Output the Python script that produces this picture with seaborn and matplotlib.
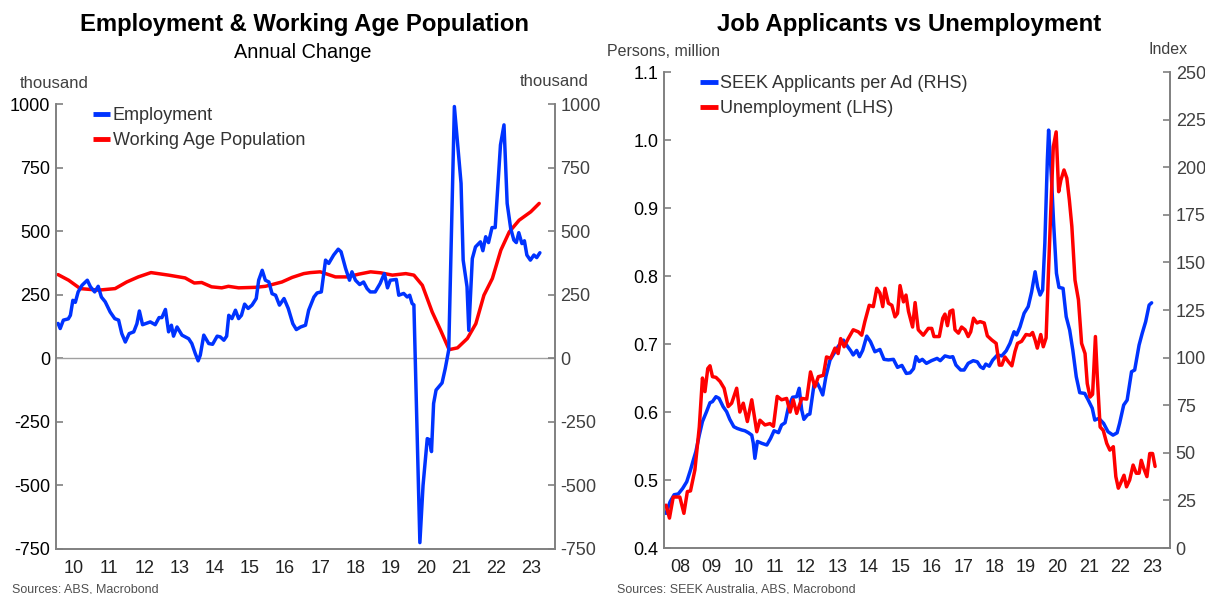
import numpy as np
import pandas as pd
import matplotlib
matplotlib.use('Agg')
import matplotlib.pyplot as plt
from matplotlib.lines import Line2D
import seaborn as sns

# --- data (decimal years) ---
emp_year = [2010.05, 2010.11, 2010.2, 2010.34, 2010.4, 2010.47, 2010.54, 2010.62, 2010.73, 2010.88,
            2010.97, 2011.09, 2011.19, 2011.28, 2011.39, 2011.53, 2011.66, 2011.77, 2011.86, 2011.96,
            2012.07, 2012.2, 2012.29, 2012.36, 2012.45, 2012.67, 2012.81, 2012.92, 2013.0, 2013.1,
            2013.19, 2013.27, 2013.33, 2013.43, 2013.57, 2013.76, 2013.85, 2013.95, 2014.03, 2014.09,
            2014.19, 2014.33, 2014.44, 2014.57, 2014.66, 2014.76, 2014.84, 2014.9, 2014.99, 2015.09,
            2015.18, 2015.26, 2015.35, 2015.45, 2015.56, 2015.68, 2015.75, 2015.85, 2015.94, 2016.04,
            2016.13, 2016.23, 2016.34, 2016.47, 2016.59, 2016.72, 2016.82, 2016.94, 2017.08, 2017.17,
            2017.32, 2017.41, 2017.53, 2017.65, 2017.74, 2017.88, 2018.01, 2018.09, 2018.22, 2018.33,
            2018.4, 2018.5, 2018.62, 2018.73, 2018.83, 2018.92, 2019.06, 2019.2, 2019.32, 2019.41,
            2019.49, 2019.66, 2019.73, 2019.87, 2019.97, 2020.04, 2020.11, 2020.16, 2020.33, 2020.42,
            2020.54, 2020.6, 2020.66, 2020.72, 2020.79, 2020.96, 2021.05, 2021.15, 2021.31, 2021.5,
            2021.56, 2021.67, 2021.72, 2021.82, 2021.91, 2022.05, 2022.12, 2022.2, 2022.28, 2022.38,
            2022.47, 2022.62, 2022.72, 2022.81, 2022.91, 2023.0, 2023.07, 2023.14, 2023.23, 2023.3,
            2023.37, 2023.47, 2023.57, 2023.65, 2023.74]
emp_val = [137, 117, 150, 155, 169, 228, 220, 261, 287, 307,
           281, 261, 283, 241, 222, 182, 156, 150, 97, 64,
           97, 104, 136, 186, 132, 143, 132, 160, 160, 192,
           104, 130, 87, 123, 91, 77, 58, 18, -10, 12,
           91, 58, 55, 87, 84, 71, 87, 169, 156, 189,
           156, 169, 213, 196, 209, 235, 307, 346, 307, 300,
           254, 248, 209, 235, 196, 136, 113, 123, 130, 189,
           241, 257, 261, 386, 373, 406, 429, 419, 353, 307,
           340, 307, 290, 300, 274, 261, 261, 294, 333, 277,
           307, 310, 248, 255, 241, 248, 215, 210, -725, -500,
           -316, -320, -367, -178, -125, -97, -41, 33, 990, 688,
           386, 281, 110, 392, 438, 458, 423, 478, 455, 514,
           514, 839, 918, 609, 511, 465, 455, 494, 451, 462,
           406, 386, 406, 396, 415]

wap_year = [2010.05, 2010.35, 2010.68, 2011.2, 2011.67, 2012.0, 2012.33, 2012.69, 2013.19, 2013.66,
            2013.92, 2014.13, 2014.41, 2014.7, 2014.89, 2015.18, 2015.65, 2015.94, 2016.41, 2016.7,
            2017.03, 2017.22, 2017.5, 2017.93, 2018.27, 2018.6, 2018.93, 2019.22, 2019.55, 2019.93,
            2020.16, 2020.4, 2020.68, 2020.92, 2021.16, 2021.4, 2021.68, 2021.92, 2022.15, 2022.39,
            2022.63, 2022.87, 2023.15, 2023.48, 2023.72]
wap_val = [329, 307, 274, 268, 274, 300, 320, 337, 327, 316,
           296, 298, 281, 277, 283, 277, 279, 283, 300, 318,
           333, 337, 340, 320, 320, 331, 340, 336, 327, 333,
           327, 287, 182, 110, 34, 41, 78, 136, 248, 314,
           425, 497, 543, 576, 609]

unemp_year = [2008.04, 2008.15, 2008.27, 2008.48, 2008.61, 2008.72, 2008.82, 2008.96, 2009.1, 2009.2,
              2009.28, 2009.37, 2009.44, 2009.52, 2009.63, 2009.76, 2009.89, 2010.02, 2010.13, 2010.29,
              2010.39, 2010.5, 2010.63, 2010.77, 2010.93, 2011.03, 2011.19, 2011.35, 2011.46, 2011.58,
              2011.72, 2011.88, 2011.99, 2012.09, 2012.2, 2012.36, 2012.52, 2012.64, 2012.78, 2012.89,
              2013.05, 2013.15, 2013.28, 2013.42, 2013.52, 2013.6, 2013.71, 2013.84, 2014.0, 2014.16,
              2014.27, 2014.37, 2014.51, 2014.64, 2014.75, 2014.85, 2014.94, 2015.01, 2015.12, 2015.23,
              2015.33, 2015.41, 2015.49, 2015.6, 2015.68, 2015.76, 2015.89, 2015.97, 2016.07, 2016.23,
              2016.39, 2016.5, 2016.57, 2016.74, 2016.85, 2016.92, 2017.0, 2017.08, 2017.17, 2017.24,
              2017.35, 2017.45, 2017.56, 2017.66, 2017.74, 2017.83, 2017.94, 2018.04, 2018.17, 2018.27,
              2018.41, 2018.55, 2018.65, 2018.73, 2018.83, 2018.94, 2019.05, 2019.15, 2019.23, 2019.36,
              2019.5, 2019.63, 2019.71, 2019.79, 2019.86, 2019.97, 2020.05, 2020.14, 2020.21, 2020.29,
              2020.37, 2020.46, 2020.54, 2020.61, 2020.71, 2020.8, 2020.88, 2020.96, 2021.06, 2021.17,
              2021.27, 2021.38, 2021.45, 2021.54, 2021.62, 2021.71, 2021.77, 2021.86, 2021.96, 2022.07,
              2022.17, 2022.28, 2022.36, 2022.44, 2022.51, 2022.62, 2022.7, 2022.8, 2022.91, 2023.01,
              2023.1, 2023.17, 2023.25, 2023.35, 2023.44, 2023.53, 2023.61]
unemp_val = [0.463, 0.444, 0.475, 0.475, 0.451, 0.483, 0.484, 0.515, 0.578, 0.650,
             0.630, 0.664, 0.668, 0.652, 0.651, 0.645, 0.635, 0.608, 0.613, 0.635,
             0.600, 0.613, 0.586, 0.618, 0.571, 0.588, 0.581, 0.583, 0.579, 0.623,
             0.618, 0.620, 0.600, 0.618, 0.598, 0.620, 0.619, 0.659, 0.637, 0.652,
             0.654, 0.681, 0.679, 0.694, 0.686, 0.708, 0.696, 0.708, 0.721, 0.718,
             0.713, 0.733, 0.757, 0.755, 0.782, 0.775, 0.755, 0.782, 0.760, 0.757,
             0.740, 0.745, 0.786, 0.762, 0.772, 0.748, 0.725, 0.761, 0.721, 0.713,
             0.723, 0.723, 0.711, 0.711, 0.738, 0.744, 0.727, 0.748, 0.750, 0.721,
             0.716, 0.725, 0.721, 0.711, 0.718, 0.738, 0.731, 0.733, 0.731, 0.712,
             0.706, 0.701, 0.669, 0.669, 0.681, 0.674, 0.668, 0.689, 0.701, 0.704,
             0.714, 0.713, 0.717, 0.706, 0.694, 0.714, 0.696, 0.709, 0.799, 0.897,
             0.990, 1.012, 0.924, 0.941, 0.956, 0.944, 0.912, 0.873, 0.794, 0.765,
             0.701, 0.686, 0.642, 0.622, 0.626, 0.711, 0.652, 0.578, 0.573, 0.554,
             0.544, 0.549, 0.505, 0.488, 0.495, 0.507, 0.490, 0.500, 0.522, 0.510,
             0.510, 0.529, 0.517, 0.505, 0.539, 0.539, 0.520]

seek_year = [2008.04, 2008.17, 2008.3, 2008.43, 2008.57, 2008.7, 2008.82, 2008.91, 2008.99, 2009.1,
             2009.2, 2009.33, 2009.44, 2009.52, 2009.63, 2009.73, 2009.86, 2009.97, 2010.07, 2010.2,
             2010.31, 2010.45, 2010.55, 2010.66, 2010.77, 2010.82, 2010.87, 2010.95, 2011.09, 2011.25,
             2011.37, 2011.48, 2011.62, 2011.72, 2011.83, 2011.94, 2012.07, 2012.2, 2012.28, 2012.36,
             2012.43, 2012.54, 2012.62, 2012.75, 2012.86, 2012.94, 2013.03, 2013.13, 2013.26, 2013.39,
             2013.53, 2013.69, 2013.81, 2013.92, 2014.0, 2014.11, 2014.2, 2014.3, 2014.43, 2014.55,
             2014.69, 2014.85, 2014.98, 2015.12, 2015.28, 2015.41, 2015.55, 2015.69, 2015.81, 2015.92,
             2016.0, 2016.1, 2016.2, 2016.33, 2016.49, 2016.67, 2016.77, 2016.92, 2017.08, 2017.17,
             2017.27, 2017.42, 2017.53, 2017.66, 2017.82, 2017.95, 2018.05, 2018.14, 2018.22, 2018.33,
             2018.44, 2018.59, 2018.73, 2018.87, 2018.99, 2019.12, 2019.2, 2019.31, 2019.44, 2019.57,
             2019.68, 2019.79, 2019.87, 2019.95, 2020.03, 2020.1, 2020.18, 2020.22, 2020.31, 2020.38,
             2020.47, 2020.55, 2020.68, 2020.78, 2020.89, 2020.99, 2021.1, 2021.21, 2021.37, 2021.47,
             2021.61, 2021.69, 2021.82, 2021.97, 2022.11, 2022.27, 2022.4, 2022.48, 2022.61, 2022.72,
             2022.86, 2022.96, 2023.1, 2023.2, 2023.31, 2023.42, 2023.5]
seek_val = [18.2, 24.3, 28.0, 28.4, 31.3, 34.8, 41.0, 46.2, 50.6, 59.3,
            66.4, 71.6, 76.3, 76.9, 79.5, 78.6, 74.2, 71.6, 67.6, 63.7,
            62.8, 62.0, 61.6, 60.6, 59.3, 55.0, 47.1, 56.0, 55.0, 54.1,
            57.6, 61.6, 60.6, 64.6, 65.8, 74.2, 79.2, 79.5, 83.9, 72.5,
            67.6, 69.9, 70.4, 85.6, 86.5, 83.9, 80.4, 90.0, 98.7, 102.3,
            106.1, 109.2, 106.1, 103.6, 101.4, 103.8, 100.5, 103.8, 111.3, 108.4,
            103.1, 104.3, 99.1, 98.8, 99.1, 94.9, 95.9, 91.7, 92.0, 94.2,
            100.5, 98.0, 99.1, 97.0, 98.4, 99.6, 98.4, 100.9, 100.2, 100.5,
            96.1, 93.5, 93.5, 97.0, 98.4, 97.8, 95.2, 94.3, 96.6, 95.5,
            98.7, 101.4, 100.9, 103.6, 107.5, 113.6, 111.9, 116.2, 123.3, 126.8,
            134.6, 145.1, 137.2, 132.9, 135.5, 160.0, 203.8, 219.5, 195.0, 170.5,
            144.3, 136.9, 136.4, 121.5, 114.5, 104.0, 90.0, 81.6, 81.2, 78.1,
            73.4, 67.2, 68.1, 65.5, 61.1, 59.3, 60.5, 65.5, 75.1, 77.7,
            92.6, 93.5, 106.6, 112.8, 118.9, 127.6, 128.8]

left_years = list(range(2010, 2024))
right_years = list(range(2008, 2024))

BLUE = '#0033ff'
RED = '#ff0000'
SPINE = '#808080'
LW = 2.5

sns.set_style('white')
plt.rcParams['font.family'] = ['Liberation Sans', 'DejaVu Sans']
plt.rcParams['text.color'] = 'black'

df_emp = pd.DataFrame({'year': emp_year, 'value': emp_val})
df_wap = pd.DataFrame({'year': wap_year, 'value': wap_val})
df_un = pd.DataFrame({'year': unemp_year, 'value': unemp_val})
df_seek = pd.DataFrame({'year': seek_year, 'value': seek_val})

fig = plt.figure(figsize=(12.05, 5.94), dpi=100)


def style_axes(ax, twin, years, xlim):
    for a in (ax, twin):
        a.spines['top'].set_visible(False)
        for s in ('left', 'right', 'bottom'):
            a.spines[s].set_color(SPINE)
            a.spines[s].set_linewidth(1.2)
        a.set_xlabel('')
        a.set_ylabel('')
        a.grid(False)
    ax.set_xlim(*xlim)
    ax.set_xticks([y for y in years] + [years[-1] + 1])
    ax.set_xticklabels([])
    ax.set_xticks([y + 0.5 for y in years], minor=True)
    ax.set_xticklabels([str(y)[2:] for y in years], minor=True)
    ax.tick_params(axis='x', which='major', direction='in', length=5, color=SPINE, width=1.2)
    ax.tick_params(axis='x', which='minor', length=0, labelsize=13, pad=8, labelcolor='#222222')
    ax.tick_params(axis='y', direction='in', length=5, color=SPINE, width=1.2, labelsize=13,
                   labelcolor='#000000', pad=4)
    twin.tick_params(axis='y', direction='in', length=5, color=SPINE, width=1.2, labelsize=13,
                     labelcolor='#404040', pad=4)


handles = [Line2D([], [], color=BLUE, lw=3.5, solid_capstyle='butt'),
           Line2D([], [], color=RED, lw=3.5, solid_capstyle='butt')]
leg_kw = dict(loc='upper left', frameon=False, fontsize=13, handlelength=0.95,
              handletextpad=0.15, labelspacing=0.45, labelcolor='#333333')

# ---------------- left panel ----------------
axL = fig.add_axes([0.0463, 0.0758, 0.4143, 0.7491])
axL2 = axL.twinx()
axL.axhline(0, color='#a0a0a0', lw=1.0, zorder=1)
sns.lineplot(data=df_wap, x='year', y='value', ax=axL, color=RED, lw=LW, zorder=3)
sns.lineplot(data=df_emp, x='year', y='value', ax=axL, color=BLUE, lw=LW, zorder=4)
ticks_l = np.arange(-750, 1001, 250)
for a in (axL, axL2):
    a.set_ylim(-750, 1000)
    a.set_yticks(ticks_l)
    a.set_yticklabels([str(t) for t in ticks_l])
style_axes(axL, axL2, left_years, (2009.985, 2024.17))
axL.legend(handles, ['Employment', 'Working Age Population'],
           bbox_to_anchor=(0.042, 1.03), **leg_kw)

# ---------------- right panel ----------------
axR = fig.add_axes([0.551, 0.0774, 0.4201, 0.8013])
axR2 = axR.twinx()
sns.lineplot(data=df_seek, x='year', y='value', ax=axR2, color=BLUE, lw=LW)
sns.lineplot(data=df_un, x='year', y='value', ax=axR, color=RED, lw=LW)
axR.set_zorder(axR2.get_zorder() + 1)
axR.patch.set_visible(False)
axR.set_ylim(0.4, 1.1)
axR.set_yticks(np.arange(0.4, 1.101, 0.1))
axR.set_yticklabels([f'{v:.1f}' for v in np.arange(0.4, 1.101, 0.1)])
axR2.set_ylim(0, 250)
axR2.set_yticks(np.arange(0, 251, 25))
axR2.set_yticklabels([str(v) for v in range(0, 251, 25)])
style_axes(axR, axR2, right_years, (2007.975, 2024.09))
axR.legend(handles, ['SEEK Applicants per Ad (RHS)', 'Unemployment (LHS)'],
           bbox_to_anchor=(0.040, 1.028), **leg_kw)

# ---------------- text ----------------
W, H = 1205, 594


def ftext(x, y, s, **kw):
    fig.text(x / W, 1 - y / H, s, **kw)


ftext(304, 25, 'Employment & Working Age Population', ha='center', va='center',
      fontsize=17.2, fontweight='bold', color='black')
ftext(303, 52, 'Annual Change', ha='center', va='center', fontsize=14.3, color='black')
ftext(909, 25, 'Job Applicants vs Unemployment', ha='center', va='center',
      fontsize=17.3, fontweight='bold', color='black')
ftext(20, 83, 'thousand', ha='left', va='center', fontsize=12, color='#404040')
ftext(520, 82, 'thousand', ha='left', va='center', fontsize=12, color='#404040')
ftext(607, 51, 'Persons, million', ha='left', va='center', fontsize=11.5, color='#404040')
ftext(1168, 49, 'Index', ha='center', va='center', fontsize=11.5, color='#404040')
ftext(12, 590, 'Sources: ABS, Macrobond', ha='left', va='center', fontsize=9, color='#505050')
ftext(617, 590, 'Sources: SEEK Australia, ABS, Macrobond', ha='left', va='center',
      fontsize=9, color='#505050')

fig.savefig('out.png', dpi=100)
